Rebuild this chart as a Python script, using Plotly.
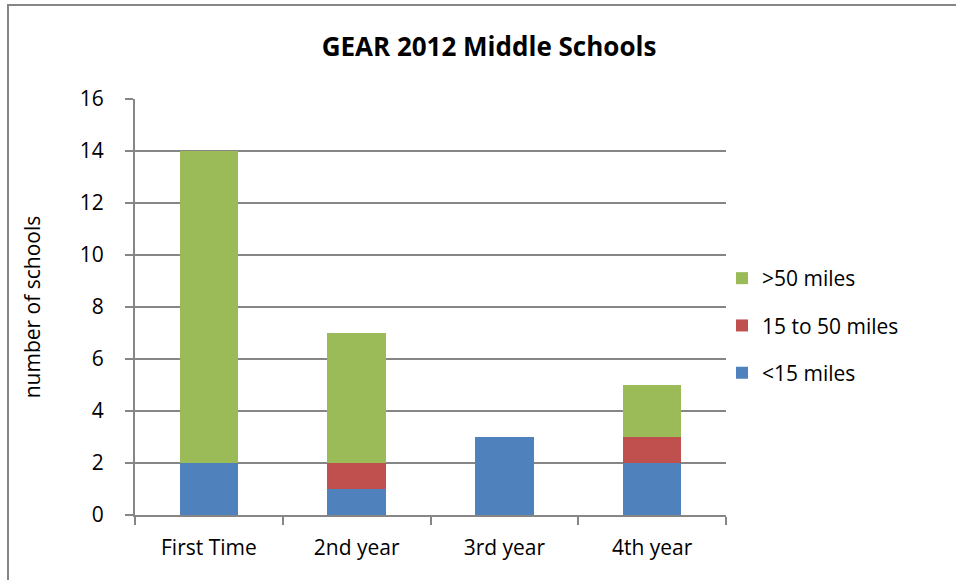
import plotly.graph_objects as go

categories = ["First Time", "2nd year", "3rd year", "4th year"]
under_15 = [2, 1, 3, 2]
mid_15_50 = [0, 1, 0, 1]
over_50 = [12, 5, 0, 2]
y_ticks = [0, 2, 4, 6, 8, 10, 12, 14, 16]

W, H = 956, 580
L, R, T, B = 135, 230, 99, 65
pw, ph = W - L - R, H - T - B

def px_x(x):
    return (x - L) / pw

def px_y(y):
    return (H - B - y) / ph

fig = go.Figure()
fig.add_trace(go.Bar(x=categories, y=under_15, name="<15 miles", legendgroup="a", legendrank=3,
                     marker_color="#4F81BD", marker_line_width=0))
fig.add_trace(go.Bar(x=categories, y=mid_15_50, name="15 to 50 miles", legendgroup="b", legendrank=2,
                     marker_color="#C0504D", marker_line_width=0))
fig.add_trace(go.Bar(x=categories, y=over_50, name=">50 miles", legendgroup="c", legendrank=1,
                     marker_color="#9BBB59", marker_line_width=0))

font = "'Open Sans', sans-serif"
fs = 21
fig.update_layout(
    width=W, height=H,
    barmode="stack", bargap=0.605,
    margin=dict(l=L, r=R, t=T, b=B),
    paper_bgcolor="white", plot_bgcolor="white",
    font=dict(family=font, size=fs, color="black"),
    title=dict(text="<b>GEAR 2012 Middle Schools</b>", x=489 / W, xanchor="center",
               y=1 - 47 / H, yanchor="middle", font=dict(size=26, family=font)),
    showlegend=True,
    legend=dict(x=px_x(722), y=px_y(258), xanchor="left", yanchor="top", traceorder="grouped",
                font=dict(size=fs), itemsizing="constant", tracegroupgap=17,
                bgcolor="rgba(0,0,0,0)"),
    xaxis=dict(showline=True, linecolor="#868686", linewidth=2, ticks="outside", ticklen=8,
               tickcolor="#868686", tickwidth=1.5, showgrid=False, ticklabelstandoff=13,
               tickson="boundaries", tickfont=dict(size=fs), zeroline=False),
    yaxis=dict(range=[0, 16], tickvals=y_ticks, showline=True, linecolor="#868686", linewidth=2,
               ticks="outside", ticklen=8, tickcolor="#868686", tickwidth=1.5, ticklabelstandoff=17,
               showgrid=True, gridcolor="#868686", gridwidth=1.5, zeroline=False,
               tickfont=dict(size=fs),
               title=dict(text="number of schools", font=dict(size=fs), standoff=33)),
)

# outer chart border (top and left visible; extends beyond the image)
fig.add_shape(type="rect", xref="paper", yref="paper",
              x0=px_x(8), x1=px_x(1000), y0=px_y(620), y1=px_y(5),
              line=dict(color="#868686", width=2), fillcolor="rgba(0,0,0,0)", layer="below")

fig.write_html("out.html")
